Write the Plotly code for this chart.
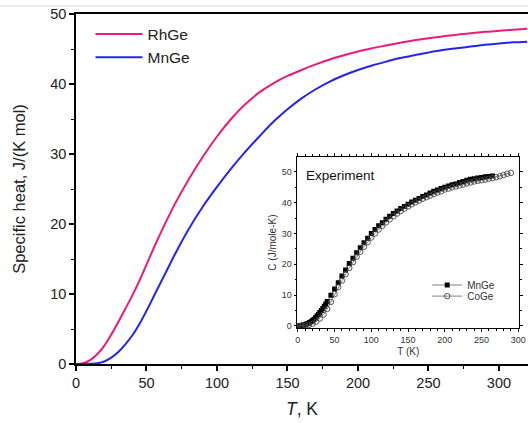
import plotly.graph_objects as go

# ---- main (calculated) curves ----
rhge_T = [0, 5, 10, 15, 20, 25, 30, 35, 40, 45, 50, 55, 60, 65, 70, 80, 90, 100, 110, 120, 130, 140, 150, 160, 170, 180, 190, 200, 210, 220, 230, 240, 250, 260, 270, 280, 290, 300, 310, 320]
rhge_C = [0, 0.1, 0.55, 1.4, 2.6, 4.2, 6.0, 7.9, 9.8, 11.9, 14.2, 16.5, 18.7, 20.8, 22.8, 26.4, 29.6, 32.5, 35.0, 37.1, 38.8, 40.1, 41.15, 42.0, 42.8, 43.5, 44.1, 44.65, 45.1, 45.5, 45.9, 46.25, 46.55, 46.8, 47.05, 47.25, 47.45, 47.6, 47.75, 47.9]

mnge_T = [0, 5, 10, 15, 20, 25, 30, 35, 40, 45, 50, 55, 60, 65, 70, 75, 80, 90, 100, 110, 120, 130, 140, 150, 160, 170, 180, 190, 200, 210, 220, 230, 240, 250, 260, 270, 280, 290, 300, 310, 320]
mnge_C = [0, 0.0, 0.02, 0.1, 0.35, 0.9, 1.7, 2.8, 4.1, 5.7, 7.6, 9.6, 11.6, 13.6, 15.6, 17.5, 19.3, 22.5, 25.3, 27.9, 30.3, 32.5, 34.6, 36.4, 37.95, 39.25, 40.35, 41.25, 42.0, 42.65, 43.2, 43.7, 44.1, 44.5, 44.85, 45.1, 45.35, 45.6, 45.8, 45.95, 46.05]

# ---- inset (experiment) ----
exp_mnge_T = [0, 2, 4, 6, 8, 10, 12, 14, 16, 18, 20, 22, 24, 26, 28, 30, 32, 34, 36, 38, 40, 45, 50, 55, 60, 65, 70, 75, 80, 85, 90, 95, 100, 105, 110, 115, 120, 125, 130, 135, 140, 145, 150, 155, 160, 165, 170, 175, 180, 185, 190, 195, 200, 205, 210, 215, 220, 225, 230, 235, 240, 245, 250, 255, 260, 265]
exp_mnge_C = [0.1, 0.1, 0.15, 0.2, 0.3, 0.4, 0.6, 0.8, 1.1, 1.4, 1.8, 2.2, 2.7, 3.2, 3.8, 4.4, 5.0, 5.7, 6.4, 7.1, 7.9, 10.0, 12.0, 14.0, 16.2, 18.2, 20.3, 22.0, 23.8, 25.4, 27.0, 28.5, 30.0, 31.3, 32.5, 33.5, 34.6, 35.6, 36.5, 37.3, 38.1, 38.8, 39.5, 40.2, 40.8, 41.4, 42.0, 42.5, 43.2, 43.7, 44.1, 44.6, 45.0, 45.4, 45.8, 46.1, 46.6, 46.9, 47.3, 47.6, 47.8, 48.0, 48.2, 48.4, 48.5, 48.7]

exp_coge_T = [0, 5, 10, 15, 20, 25, 30, 35, 40, 45, 50, 55, 60, 65, 70, 75, 80, 85, 90, 95, 100, 105, 110, 115, 120, 125, 130, 135, 140, 145, 150, 155, 160, 165, 170, 175, 180, 185, 190, 195, 200, 205, 210, 215, 220, 225, 230, 235, 240, 245, 250, 255, 260, 265, 270, 275, 280, 285, 290]
exp_coge_C = [0, 0.05, 0.1, 0.3, 0.7, 1.4, 2.4, 3.7, 5.5, 7.8, 10.3, 12.6, 14.7, 16.8, 18.8, 20.7, 22.5, 24.1, 25.7, 27.2, 28.7, 30.0, 31.3, 32.5, 33.6, 34.6, 35.6, 36.5, 37.3, 38.1, 38.8, 39.5, 40.1, 40.7, 41.3, 41.8, 42.3, 42.8, 43.3, 43.7, 44.3, 44.6, 45.0, 45.3, 45.6, 45.9, 46.3, 46.6, 46.9, 47.1, 47.3, 47.5, 47.8, 48.0, 48.3, 48.6, 49.0, 49.4, 49.7]

main_ticks = [0, 50, 100, 150, 200, 250, 300]
main_yticks = [0, 10, 20, 30, 40, 50]
inset_ticks = [0, 50, 100, 150, 200, 250, 300]
inset_yticks = [0, 10, 20, 30, 40, 50]

PINK = "#EE1A7A"
BLUE = "#2424F2"
FONT = "Liberation Sans, Arial, sans-serif"

fig = go.Figure()
fig.add_trace(go.Scatter(x=rhge_T, y=rhge_C, mode="lines", name="RhGe",
                         line=dict(color=PINK, width=2, shape="spline", smoothing=1.0),
                         legend="legend"))
fig.add_trace(go.Scatter(x=mnge_T, y=mnge_C, mode="lines", name="MnGe",
                         line=dict(color=BLUE, width=2, shape="spline", smoothing=1.0),
                         legend="legend"))

fig.add_trace(go.Scatter(x=exp_mnge_T, y=exp_mnge_C, mode="lines+markers", name="MnGe",
                         xaxis="x2", yaxis="y2", legend="legend2",
                         line=dict(color="#666666", width=0.8),
                         marker=dict(symbol="square", size=5, color="black")))
fig.add_trace(go.Scatter(x=exp_coge_T, y=exp_coge_C, mode="lines+markers", name="CoGe",
                         xaxis="x2", yaxis="y2", legend="legend3",
                         line=dict(color="#666666", width=0.8),
                         marker=dict(symbol="circle-open", size=5.5, color="#444444",
                                     line=dict(width=0.9, color="#444444"))))

axis_common = dict(showgrid=False, zeroline=False, showline=True, linecolor="black",
                   ticks="outside", tickcolor="black", automargin=False,
                   ticklabeloverflow="allow")

inset_legend = dict(xanchor="left", yanchor="middle", bgcolor="rgba(0,0,0,0)",
                    font=dict(size=10, color="#333333"), itemwidth=30, tracegroupgap=0)

fig.update_layout(
    width=528, height=423,
    margin=dict(l=76, r=0, t=14, b=59),
    paper_bgcolor="white", plot_bgcolor="white",
    font=dict(family=FONT, color="#222222"),
    xaxis=dict(**axis_common, domain=[0, 1], range=[0, 320.6], tickvals=main_ticks,
               ticklen=5, linewidth=1.5, tickwidth=1.5, mirror=True,
               minor=dict(dtick=25, ticklen=3, ticks="outside", tickcolor="black", tickwidth=1.2),
               tickfont=dict(size=14.5, color="#222222"),
               title=dict(text="<i>T</i>, K", font=dict(size=17.5, color="#222222"), standoff=13)),
    yaxis=dict(**axis_common, domain=[0, 1], range=[0, 50], tickvals=main_yticks,
               ticklen=5, linewidth=1.5, tickwidth=1.5,
               minor=dict(dtick=5, ticklen=3, ticks="outside", tickcolor="black", tickwidth=1.2),
               tickfont=dict(size=14.5, color="#222222"),
               title=dict(text="Specific heat, J/(K mol)", font=dict(size=16.5, color="#222222"), standoff=20)),
    xaxis2=dict(**axis_common, domain=[0.490, 0.980], anchor="y2", range=[-0.5, 301],
                tickvals=inset_ticks, ticklen=3, linewidth=0.8, tickwidth=0.8, mirror="ticks",
                minor=dict(dtick=10, ticklen=2, ticks="outside", tickcolor="black", tickwidth=0.7),
                tickfont=dict(size=9, color="#333333"),
                title=dict(text="T (K)", font=dict(size=10, color="#333333"), standoff=4)),
    yaxis2=dict(**axis_common, domain=[0.103, 0.591], anchor="x2", range=[-0.65, 54.8],
                tickvals=inset_yticks, ticklen=3, linewidth=0.8, tickwidth=0.8, mirror="ticks",
                minor=dict(dtick=5, ticklen=2, ticks="outside", tickcolor="black", tickwidth=0.7),
                tickfont=dict(size=9, color="#333333"),
                title=dict(text="C (J/mole-K)", font=dict(size=10, color="#333333"), standoff=3)),
    legend=dict(x=0.032, y=0.99, xanchor="left", yanchor="top", bgcolor="rgba(0,0,0,0)",
                font=dict(size=15.5, color="#222222"), itemwidth=47, tracegroupgap=0),
    legend2=dict(x=0.777, y=0.2257, **inset_legend),
    legend3=dict(x=0.777, y=0.194, **inset_legend),
    annotations=[dict(text="Experiment", x=0.505, y=0.538, xref="paper", yref="paper",
                      xanchor="left", yanchor="middle", showarrow=False,
                      font=dict(size=13.5, color="#111111"))],
    shapes=[dict(type="line", xref="paper", yref="paper", x0=-0.2, x1=1.0,
                 y0=1.0229, y1=1.0229, line=dict(color="#d4d4d4", width=1))],
)

# remove the default 8px page margin so the figure sits at the window's top-left corner
fig.write_html("out.html", config={"displayModeBar": False},
               post_script="document.body.style.margin='0px';")
